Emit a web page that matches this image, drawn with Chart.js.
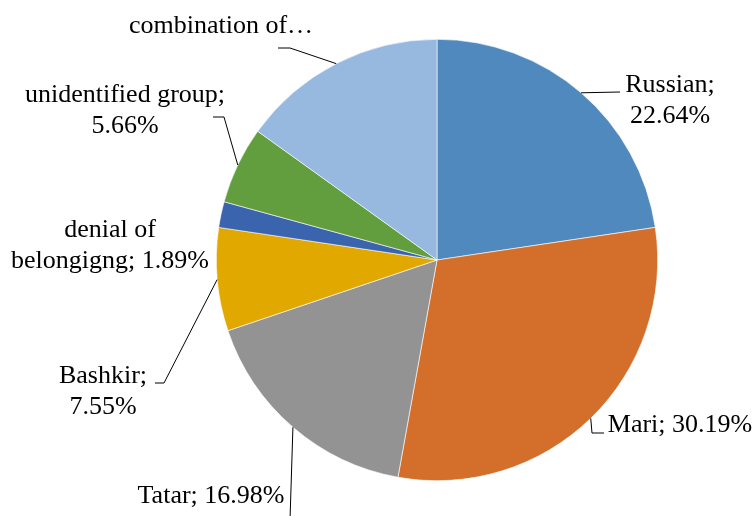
<!DOCTYPE html>
<html>
<head>
<meta charset="utf-8">
<script src="https://cdn.jsdelivr.net/npm/chart.js@4/dist/chart.umd.min.js"></script>
<style>
  html, body { margin: 0; padding: 0; background: #fff; }
  canvas { display: block; }
</style>
</head>
<body>
<canvas id="pieChart" width="755" height="516"></canvas>
<script>
const categories = ["Russian", "Mari", "Tatar", "Bashkir", "denial of belongigng", "unidentified group", "combination of…"];
const values = [22.64, 30.19, 16.98, 7.55, 1.89, 5.66, 15.09];
const colors = ["#4F89BD", "#D36F2B", "#939393", "#E1A900", "#3B64AE", "#629D3E", "#97B8DF"];

// label placement (first line baseline) and leader line points after the arc edge
const labelLayout = [
  { x: 670, y: 92, maxWidth: 110, showValue: true, leader: [[620, 92]] },
  { x: 680, y: 432, maxWidth: 200, showValue: true, leader: [[592, 433], [604, 433]] },
  { x: 211, y: 503, maxWidth: 200, showValue: true, leader: [[290, 520]] },
  { x: 103, y: 383, maxWidth: 110, showValue: true, leader: [[164, 383], [155, 383]] },
  { x: 110, y: 237, maxWidth: 205, showValue: true, leader: null },
  { x: 125, y: 102, maxWidth: 205, showValue: true, leader: [[224, 117], [213, 117]] },
  { x: 221, y: 33, maxWidth: 250, showValue: false, leader: [[290, 48], [278, 48]] },
];

const FONT = "26px Liberation Serif";
const LINE_H = 31;

function wrapText(ctx, text, maxWidth) {
  const words = text.split(" ");
  const lines = [];
  let cur = "";
  words.forEach((w) => {
    const test = cur ? cur + " " + w : w;
    if (cur && ctx.measureText(test).width > maxWidth) {
      lines.push(cur);
      cur = w;
    } else {
      cur = test;
    }
  });
  if (cur) lines.push(cur);
  return lines;
}

const pieLabels = {
  id: "pieLabels",
  afterDraw(chart) {
    const ctx = chart.ctx;
    const arcs = chart.getDatasetMeta(0).data;
    ctx.save();
    ctx.fillStyle = "#000";
    ctx.strokeStyle = "#000";
    ctx.lineWidth = 1;
    ctx.textAlign = "center";
    ctx.textBaseline = "alphabetic";
    arcs.forEach((arc, i) => {
      const lay = labelLayout[i];
      const p = arc.getProps(["x", "y", "startAngle", "endAngle", "outerRadius"], true);
      const mid = (p.startAngle + p.endAngle) / 2;
      if (lay.leader) {
        ctx.beginPath();
        ctx.moveTo(p.x + Math.cos(mid) * p.outerRadius, p.y + Math.sin(mid) * p.outerRadius);
        lay.leader.forEach((pt) => ctx.lineTo(pt[0], pt[1]));
        ctx.stroke();
      }
      ctx.font = FONT;
      const text = lay.showValue ? `${categories[i]}; ${values[i].toFixed(2)}%` : categories[i];
      wrapText(ctx, text, lay.maxWidth).forEach((line, k) => {
        ctx.fillText(line, lay.x, lay.y + k * LINE_H);
      });
    });
    ctx.restore();
  },
};

new Chart(document.getElementById("pieChart"), {
  type: "pie",
  data: {
    labels: categories,
    datasets: [{ data: values, backgroundColor: colors, borderColor: "#ffffff", borderWidth: 0.6 }],
  },
  options: {
    responsive: false,
    animation: false,
    layout: { padding: { top: 39, bottom: 35, left: 216, right: 97 } },
    plugins: { legend: { display: false }, tooltip: { enabled: false } },
  },
  plugins: [pieLabels],
});
</script>
</body>
</html>
